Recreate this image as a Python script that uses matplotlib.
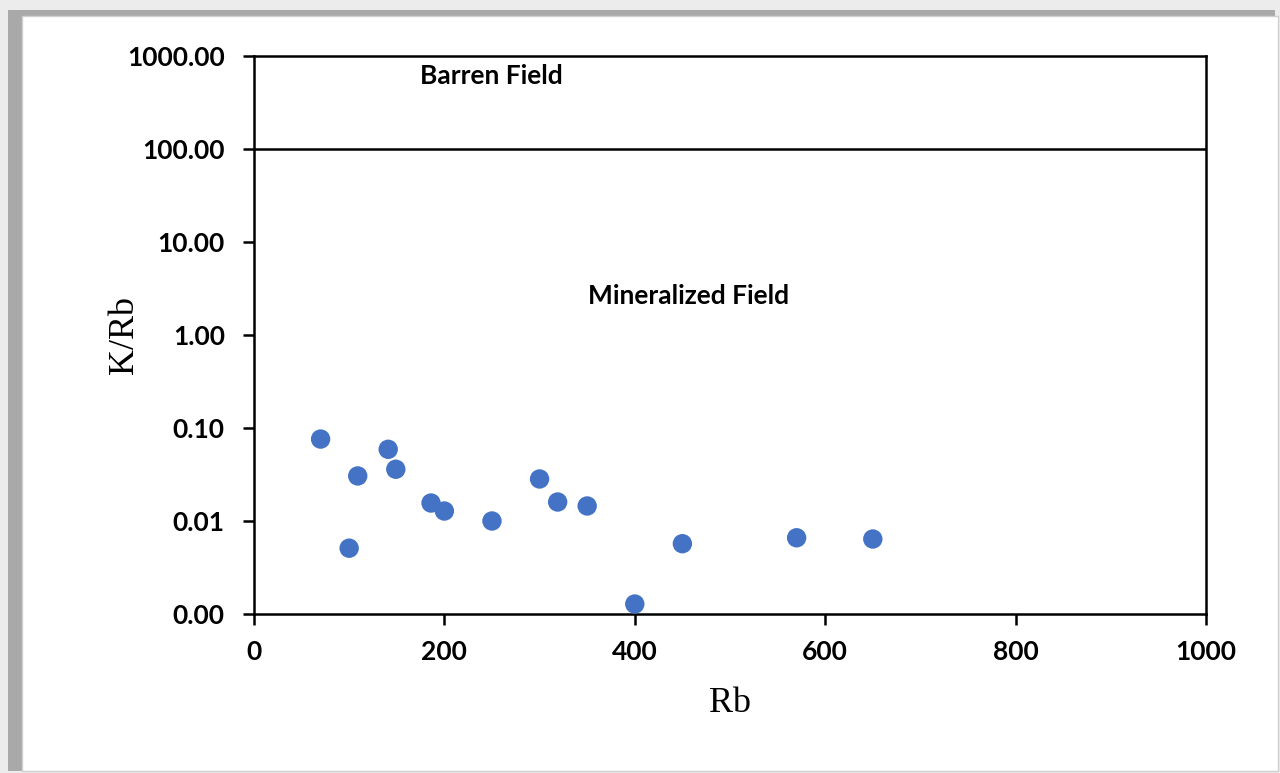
import matplotlib
matplotlib.use("Agg")
import matplotlib.pyplot as plt
from matplotlib.patches import Rectangle
from matplotlib.ticker import FixedLocator, FuncFormatter

rb = [70, 100, 109, 141, 149, 186, 200, 250, 300, 319, 350, 400, 450, 570, 650]
k_rb = [0.076, 0.0051, 0.0305, 0.059, 0.036, 0.0156, 0.0128, 0.0100,
        0.0283, 0.0160, 0.0145, 0.00128, 0.0057, 0.0066, 0.0064]

x_ticks = [0, 200, 400, 600, 800, 1000]
y_ticks = [0.001, 0.01, 0.1, 1, 10, 100, 1000]
barren_limit = 100

TICK_FONT = "Lato"
LABEL_FONT = "Liberation Serif"
POINT_COLOR = "#4472C4"

fig = plt.figure(figsize=(12.8, 7.73), dpi=100)
fig.set_facecolor("#ececec")

# card-like frame behind the plot
fig.patches.append(Rectangle((0.006, 0.003), 0.99, 0.984, transform=fig.transFigure,
                             facecolor="#a9a9a9", edgecolor="none", zorder=-10))
fig.patches.append(Rectangle((0.0172, 0.003), 0.981, 0.976, transform=fig.transFigure,
                             facecolor="white", edgecolor="#d0d0d0", linewidth=1, zorder=-9))

ax = fig.add_axes([0.1984, 0.2057, 0.7438, 0.7219])
ax.set_zorder(5)
ax.set_facecolor("white")

ax.scatter(rb, k_rb, s=195, color=POINT_COLOR, edgecolor="none", zorder=3)
ax.axhline(barren_limit, color="black", linewidth=1.8, zorder=2)

ax.set_yscale("log")
ax.set_xlim(0, 1000)
ax.set_ylim(0.001, 1000)
ax.xaxis.set_major_locator(FixedLocator(x_ticks))
ax.yaxis.set_major_locator(FixedLocator(y_ticks))
ax.yaxis.set_minor_locator(FixedLocator([]))
ax.yaxis.set_major_formatter(FuncFormatter(lambda v, _: f"{v:.2f}"))

for spine in ax.spines.values():
    spine.set_linewidth(1.8)
    spine.set_color("black")

ax.tick_params(axis="both", direction="out", length=8, width=1.8, pad=11)
ax.tick_params(axis="y", pad=13)
for lbl in ax.get_xticklabels() + ax.get_yticklabels():
    lbl.set_fontfamily(TICK_FONT)
    lbl.set_fontweight("bold")
    lbl.set_fontsize(19)

ax.set_xlabel("Rb", fontfamily=LABEL_FONT, fontsize=26)
ax.set_ylabel("K/Rb", fontfamily=LABEL_FONT, fontsize=26)
ax.xaxis.label.set_va("center")
ax.yaxis.label.set_va("center")
ax.xaxis.set_label_coords(0.5, -0.16)
ax.yaxis.set_label_coords(-0.1355, 0.5)

ax.text(249, 610, "Barren Field", fontfamily=TICK_FONT, fontweight="bold",
        fontsize=19, ha="center", va="center")
ax.text(456, 2.63, "Mineralized Field", fontfamily=TICK_FONT, fontweight="bold",
        fontsize=19, ha="center", va="center")

fig.savefig("out.png", dpi=100, facecolor=fig.get_facecolor())
